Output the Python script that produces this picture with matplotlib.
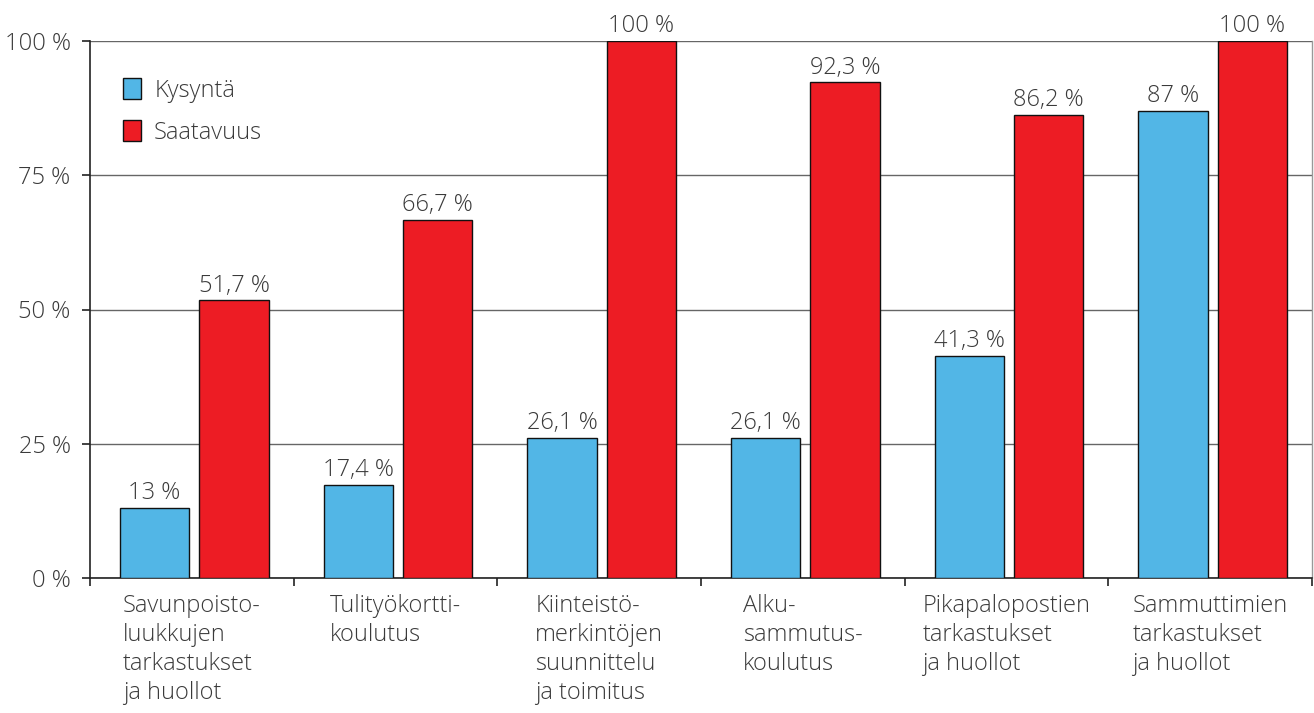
import matplotlib
matplotlib.use("Agg")
import matplotlib.pyplot as plt
import numpy as np

categories = [
    "Savunpoisto-\nluukkujen\ntarkastukset\nja huollot",
    "Tulityökortti-\nkoulutus",
    "Kiinteistö-\nmerkintöjen\nsuunnittelu\nja toimitus",
    "Alku-\nsammutus-\nkoulutus",
    "Pikapalopostien\ntarkastukset\nja huollot",
    "Sammuttimien\ntarkastukset\nja huollot",
]
kysynta = [13, 17.4, 26.1, 26.1, 41.3, 87]
saatavuus = [51.7, 66.7, 100, 92.3, 86.2, 100]
yticks = [0, 25, 50, 75, 100]
ytick_labels = ["0 %", "25 %", "50 %", "75 %", "100 %"]
series_names = ["Kysyntä", "Saatavuus"]

BLUE = "#52B6E6"
RED = "#ED1C24"
TXT = "#3a3a3a"
FS = 17

plt.rcParams['font.family'] = ['Open Sans', 'DejaVu Sans']

fig = plt.figure(figsize=(13.14, 7.13), dpi=100)
ax = fig.add_axes([90/1314, 1-578/713, (1312-90)/1314, (578-41)/713])

x = np.arange(len(categories)) + 0.5
w = 0.34
b1 = ax.bar(x - 0.183, kysynta, w, color=BLUE, edgecolor="#111111", linewidth=1.0, label=series_names[0], zorder=3)
b2 = ax.bar(x + 0.207, saatavuus, w, color=RED, edgecolor="#111111", linewidth=1.0, label=series_names[1], zorder=3)

def fmt(v):
    s = ("%g" % v).replace(".", ",")
    return s + " %"

for bars, vals in ((b1, kysynta), (b2, saatavuus)):
    for r, v in zip(bars, vals):
        ax.annotate(fmt(v), (r.get_x() + r.get_width()/2, v), xytext=(0, 2),
                    textcoords="offset points", ha="center", va="bottom",
                    fontsize=FS, color=TXT, fontweight="light")

ax.set_xlim(0, len(categories))
ax.set_ylim(0, 100)
ax.set_yticks(yticks)
ax.set_yticklabels(ytick_labels, fontsize=FS, color=TXT, fontweight="light")
ax.yaxis.grid(True, color="#666666", linewidth=1.0, zorder=0)
ax.tick_params(axis="y", length=6, width=1.2, color="#222222", pad=8)

ax.set_xticks(np.arange(len(categories) + 1))
ax.set_xticklabels([])
ax.tick_params(axis="x", length=6, width=1.2, color="#222222")
for xi, lab in zip(x, categories):
    ax.text(xi, -2.9, lab, ha="center", va="top", multialignment="left",
            fontsize=FS, color=TXT, fontweight="light", linespacing=1.28,
            transform=ax.transData)

for s in ("left", "bottom"):
    ax.spines[s].set_color("#222222")
    ax.spines[s].set_linewidth(1.2)
ax.spines["top"].set_visible(False)
ax.spines["right"].set_color("#999999")
ax.spines["right"].set_linewidth(1.0)

leg = ax.legend(loc="upper left", bbox_to_anchor=(0.01, 0.97), frameon=False,
                prop={"size": FS, "weight": "light"}, handlelength=0.75, handleheight=0.95,
                handletextpad=0.55, labelspacing=0.75, labelcolor=TXT)
for h in leg.legend_handles:
    h.set_linewidth(1.0)

fig.savefig("out.png", dpi=100)
